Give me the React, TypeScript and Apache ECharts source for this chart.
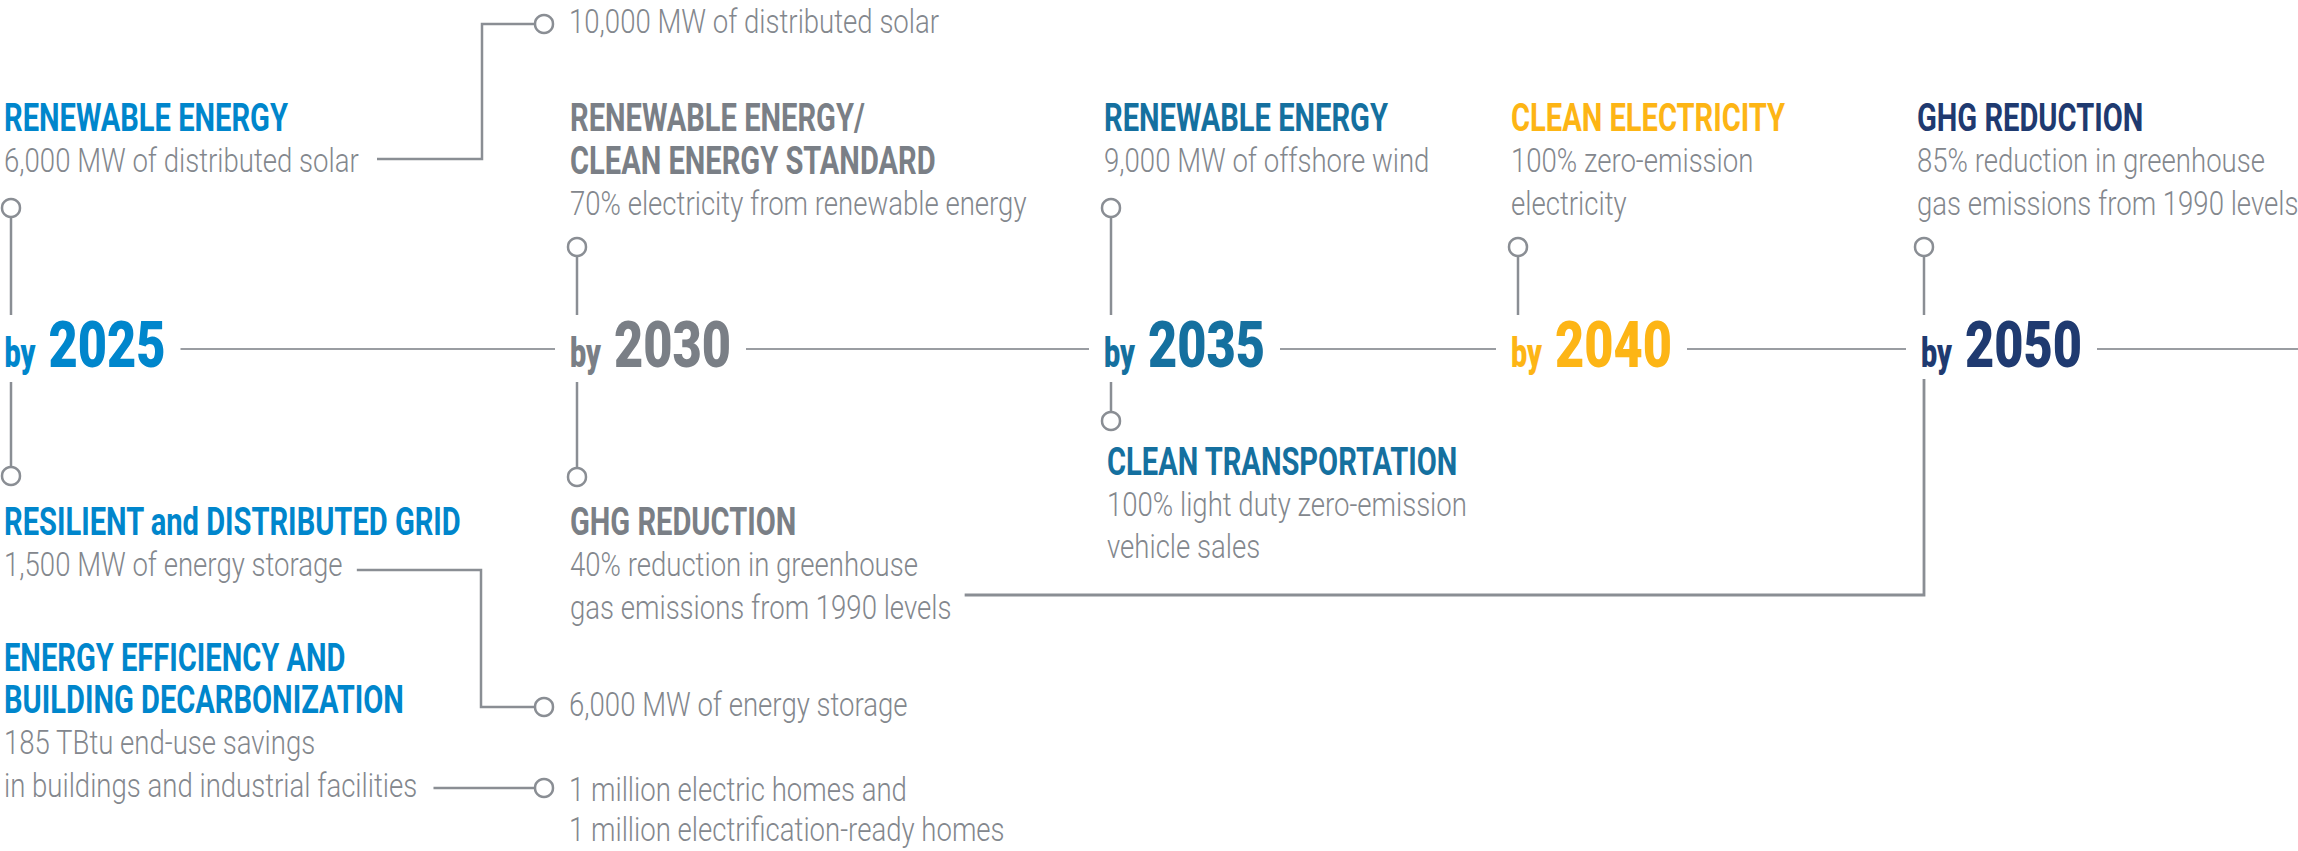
import React, { useEffect, useRef } from "react";
import * as echarts from "echarts";

// ---------- content ----------
const years = ["2025", "2030", "2035", "2040", "2050"];
const topHeadings = [
  ["RENEWABLE ENERGY"],
  ["RENEWABLE ENERGY/", "CLEAN ENERGY STANDARD"],
  ["RENEWABLE ENERGY"],
  ["CLEAN ELECTRICITY"],
  ["GHG REDUCTION"],
];
const topDetails = [
  ["6,000 MW of distributed solar"],
  ["70% electricity from renewable energy"],
  ["9,000 MW of offshore wind"],
  ["100% zero-emission", "electricity"],
  ["85% reduction in greenhouse", "gas emissions from 1990 levels"],
];
const bottomHeadings = [["RESILIENT and DISTRIBUTED GRID"], ["GHG REDUCTION"], ["CLEAN TRANSPORTATION"]];
const bottomDetails = [
  ["1,500 MW of energy storage"],
  ["40% reduction in greenhouse", "gas emissions from 1990 levels"],
  ["100% light duty zero-emission", "vehicle sales"],
];
const efficiencyHeading = ["ENERGY EFFICIENCY AND", "BUILDING DECARBONIZATION"];
const efficiencyDetails = ["185 TBtu end-use savings", "in buildings and industrial facilities"];
const solarBy2030 = ["10,000 MW of distributed solar"];
const storageBy2030 = ["6,000 MW of energy storage"];
const homesBy2030 = ["1 million electric homes and", "1 million electrification-ready homes"];

// ---------- layout / style ----------
const FONT = "Roboto, 'Liberation Sans', sans-serif";
const colColors = ["#0086CC", "#7A7F86", "#15709F", "#FDB515", "#1F3A70"];
const BODY = "#83878D";
const LINE = "#8A8E94";
const colX = [4, 570, 1104, 1511, 1917];
const byX = [4.5, 570, 1104, 1511, 1921];
const topCircleY = [208, 247, 208, 247, 247];
const bottomCircleY = [476, 477, 421];
const bottomTextX = [4, 570, 1107];
const bottomTextY = [522.5, 522.5, 462];
const STEP = 42.3;
const R = 9;

type St = { size: number; weight: number; scale: number };

export default function App() {
  const ref = useRef<HTMLDivElement>(null);
  useEffect(() => {
    document.body.style.margin = "0";
    const canvas = document.createElement("canvas");
    const ctx = canvas.getContext("2d")!;
    const measure = (s: string, st: St) => {
      ctx.font = `${st.weight} ${st.size}px ${FONT}`;
      return ctx.measureText(s).width;
    };
    const H: St = { size: 38, weight: 700, scale: 1 };
    const B: St = { size: 34, weight: 300, scale: 1 };
    const Y: St = { size: 64, weight: 900, scale: 1 };
    const BY: St = { size: 40, weight: 900, scale: 1 };
    H.scale = 284 / measure("RENEWABLE ENERGY", H);
    B.scale = 355 / measure("6,000 MW of distributed solar", B);
    Y.scale = 117 / measure("2025", Y);
    BY.scale = 31 / measure("by", BY);
    const width = (s: string, st: St) => measure(s, st) * st.scale;

    const texts: any[] = [];
    const lines: any[] = [];
    const circles: any[] = [];

    const text = (x: number, y: number, s: string, st: St, color: string) =>
      texts.push({
        type: "text",
        x,
        y,
        scaleX: st.scale,
        silent: true,
        style: {
          text: s,
          fill: color,
          fontSize: st.size,
          fontWeight: st.weight,
          fontFamily: FONT,
          textAlign: "left",
          textVerticalAlign: "middle",
          align: "left",
          verticalAlign: "middle",
        },
      });
    const line = (pts: number[][], w = 2.5, color = LINE) =>
      lines.push({
        type: "polyline",
        silent: true,
        shape: { points: pts },
        style: { stroke: color, lineWidth: w, fill: null },
      });
    const circle = (cx: number, cy: number) =>
      circles.push({
        type: "circle",
        silent: true,
        shape: { cx, cy, r: R },
        style: { fill: "#ffffff", stroke: LINE, lineWidth: 2.5 },
      });

    // columns
    years.forEach((yr, i) => {
      const x = colX[i];
      const c = colColors[i];
      let y = 118.5;
      topHeadings[i].forEach((s) => {
        text(x, y, s, H, c);
        y += STEP;
      });
      topDetails[i].forEach((s) => {
        text(x, y, s, B, BODY);
        y += STEP;
      });
      const cx = x + 7;
      circle(cx, topCircleY[i]);
      line([[cx, topCircleY[i] + R], [cx, 315]]);

      // year label
      const yx = byX[i] + 44;
      text(byX[i], 353.5, "by", BY, c);
      text(yx, 345, yr, Y, c);
      const segStart = yx + width(yr, Y) + 15;
      const segEnd = i < years.length - 1 ? byX[i + 1] - 15 : 2298;
      line([[segStart, 349], [segEnd, 349]], 2, "#9A9DA2");

      if (i < bottomHeadings.length) {
        circle(cx, bottomCircleY[i]);
        line([[cx, 382], [cx, bottomCircleY[i] - R]]);
        let by2 = bottomTextY[i];
        bottomHeadings[i].forEach((s) => {
          text(bottomTextX[i], by2, s, H, c);
          by2 += STEP;
        });
        bottomDetails[i].forEach((s) => {
          text(bottomTextX[i], by2, s, B, BODY);
          by2 += STEP;
        });
      }
    });

    // efficiency block
    text(4, 658, efficiencyHeading[0], H, colColors[0]);
    text(4, 700, efficiencyHeading[1], H, colColors[0]);
    text(4, 742, efficiencyDetails[0], B, BODY);
    text(4, 785, efficiencyDetails[1], B, BODY);

    // 2030 extras connected from 2025 items
    const ex = 544;
    const tx = 569;
    // solar
    const s1 = 4 + width(topDetails[0][0], B) + 18;
    line([[s1, 159], [482, 159], [482, 24], [ex - R, 24]]);
    circle(ex, 24);
    text(tx, 21, solarBy2030[0], B, BODY);
    // storage
    const s2 = 4 + width(bottomDetails[0][0], B) + 14;
    line([[s2, 570], [481, 570], [481, 707], [ex - R, 707]]);
    circle(ex, 707);
    text(tx, 704.5, storageBy2030[0], B, BODY);
    // homes
    const s3 = 4 + width(efficiencyDetails[1], B) + 16;
    line([[s3, 788], [ex - R, 788]]);
    circle(ex, 788);
    text(tx, 789.5, homesBy2030[0], B, BODY);
    text(tx, 829.5, homesBy2030[1], B, BODY);

    // GHG 2030 -> 2050 connector
    const s4 = 570 + width(bottomDetails[1][1], B) + 13;
    line([[s4, 595], [1924, 595], [1924, 379]], 2.8);

    const chart = echarts.init(ref.current!, null, { renderer: "svg" });
    chart.setOption({
      animation: false,
      backgroundColor: "#ffffff",
      graphic: { elements: [...lines, ...circles, ...texts] },
    });
    return () => chart.dispose();
  }, []);
  return (
    <div
      ref={ref}
      style={{ position: "absolute", left: 0, top: 0, width: 2298, height: 851 }}
    />
  );
}
